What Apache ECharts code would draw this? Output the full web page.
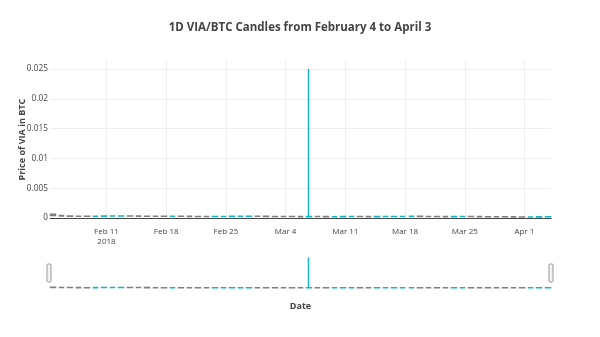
<!DOCTYPE html>
<html>
<head>
<meta charset="utf-8">
<script src="https://cdn.jsdelivr.net/npm/echarts@6/dist/echarts.min.js"></script>
<style>html,body{margin:0;padding:0;background:#fff;}#c{width:600px;height:337px;}</style>
</head>
<body>
<div id="c"></div>
<script>
const dates = [
  '2018-02-04','2018-02-05','2018-02-06','2018-02-07','2018-02-08','2018-02-09','2018-02-10',
  '2018-02-11','2018-02-12','2018-02-13','2018-02-14','2018-02-15','2018-02-16','2018-02-17',
  '2018-02-18','2018-02-19','2018-02-20','2018-02-21','2018-02-22','2018-02-23','2018-02-24',
  '2018-02-25','2018-02-26','2018-02-27','2018-02-28','2018-03-01','2018-03-02','2018-03-03',
  '2018-03-04','2018-03-05','2018-03-06','2018-03-07','2018-03-08','2018-03-09','2018-03-10',
  '2018-03-11','2018-03-12','2018-03-13','2018-03-14','2018-03-15','2018-03-16','2018-03-17',
  '2018-03-18','2018-03-19','2018-03-20','2018-03-21','2018-03-22','2018-03-23','2018-03-24',
  '2018-03-25','2018-03-26','2018-03-27','2018-03-28','2018-03-29','2018-03-30','2018-03-31',
  '2018-04-01','2018-04-02','2018-04-03'
];
const openV = [
  0.00062,0.00041,0.00035,0.00031,0.00030,0.00029,0.00031,0.00033,0.00034,0.00035,
  0.00033,0.00031,0.00030,0.00029,0.00028,0.00029,0.00028,0.00026,0.00025,0.00024,
  0.00026,0.00027,0.00028,0.00029,0.00030,0.00028,0.00027,0.00026,0.00025,0.00024,
  0.00023,0.00025,0.00024,0.00022,0.00023,0.00024,0.00025,0.00024,0.00023,0.00024,
  0.00025,0.00026,0.00027,0.00028,0.00026,0.00025,0.00024,0.00023,0.00024,0.00025,
  0.00024,0.00022,0.00021,0.00020,0.00019,0.00018,0.00017,0.00018,0.00019
];
const closeV = [
  0.00041,0.00035,0.00031,0.00030,0.00029,0.00031,0.00033,0.00034,0.00035,0.00033,
  0.00031,0.00030,0.00029,0.00028,0.00029,0.00028,0.00026,0.00025,0.00024,0.00026,
  0.00027,0.00028,0.00029,0.00030,0.00028,0.00027,0.00026,0.00025,0.00024,0.00023,
  0.00025,0.00024,0.00022,0.00023,0.00024,0.00025,0.00024,0.00023,0.00024,0.00025,
  0.00026,0.00027,0.00028,0.00026,0.00025,0.00024,0.00023,0.00024,0.00025,0.00024,
  0.00022,0.00021,0.00020,0.00019,0.00018,0.00017,0.00018,0.00019,0.00020
];
const lowV = [
  0.00039,0.00033,0.00029,0.00028,0.00028,0.00028,0.00030,0.00032,0.00033,0.00032,
  0.00030,0.00029,0.00028,0.00027,0.00027,0.00027,0.00025,0.00024,0.00023,0.00023,
  0.00025,0.00026,0.00027,0.00028,0.00027,0.00026,0.00025,0.00024,0.00023,0.00022,
  0.00022,0.00023,0.00021,0.00021,0.00022,0.00023,0.00023,0.00022,0.00022,0.00023,
  0.00024,0.00025,0.00026,0.00025,0.00024,0.00023,0.00022,0.00022,0.00023,0.00023,
  0.00021,0.00020,0.00019,0.00018,0.00017,0.00016,0.00016,0.00017,0.00018
];
const highV = [
  0.00066,0.00043,0.00037,0.00033,0.00031,0.00032,0.00034,0.00035,0.00037,0.00036,
  0.00034,0.00032,0.00031,0.00030,0.00030,0.00030,0.00029,0.00027,0.00026,0.00027,
  0.00028,0.00029,0.00030,0.00031,0.00031,0.00029,0.00028,0.00027,0.00026,0.00025,
  0.02500,0.00026,0.00025,0.00024,0.00025,0.00026,0.00026,0.00025,0.00025,0.00026,
  0.00027,0.00028,0.00029,0.00029,0.00027,0.00026,0.00025,0.00025,0.00026,0.00026,
  0.00025,0.00023,0.00022,0.00021,0.00020,0.00019,0.00019,0.00020,0.00021
];
// weekly x ticks (Sundays) and their labels
const xTickDates = ['2018-02-11','2018-02-18','2018-02-25','2018-03-04','2018-03-11','2018-03-18','2018-03-25','2018-04-01'];
const xTickLabels = ['Feb 11\n2018','Feb 18','Feb 25','Mar 4','Mar 11','Mar 18','Mar 25','Apr 1'];

const DAY = 86400000;
const t0 = Date.UTC(2018, 1, 4);
const dayOf = s => (Date.parse(s + 'T00:00:00Z') - t0) / DAY;
const candleTime = 0.73;            // candles are stamped ~17:30 UTC each day
const source = dates.map((d, i) => [dayOf(d) + candleTime, openV[i], closeV[i], lowV[i], highV[i]]);
const xMin = 0.38, xMax = 59.11;    // visible date range (days after Feb 4 00:00)
const yMax = 0.0263;

const UP = '#19B2C0', DOWN = '#7F7F7F';
const FONT = 'Open Sans';

const candleStyle = {
  color: UP, color0: DOWN, borderColor: UP, borderColor0: DOWN, borderColorDoji: DOWN, borderWidth: 1.5
};

const chart = echarts.init(document.getElementById('c'), null, {renderer: 'canvas'});
chart.setOption({
  animation: false,
  backgroundColor: '#fff',
  textStyle: {fontFamily: FONT},
  title: {
    text: '1D VIA/BTC Candles from February 4 to April 3',
    left: 'center', top: 17,
    textStyle: {fontFamily: FONT, fontSize: 11.5, fontWeight: 'bold', color: '#444'}
  },
  dataset: {source: source},
  grid: [
    {left: 50, right: 49, top: 218 - yMax * 5960, height: yMax * 5960},
    {left: 50, right: 49, top: 256, height: 32}
  ],
  xAxis: [
    {
      type: 'value', gridIndex: 0, min: xMin, max: xMax,
      axisLine: {show: true, onZero: false, lineStyle: {color: '#444', width: 1}},
      axisTick: {show: false}, splitLine: {show: false}, axisLabel: {show: false}
    },
    {
      type: 'value', gridIndex: 1, min: xMin, max: xMax,
      axisLine: {show: false}, axisTick: {show: false}, axisLabel: {show: false}, splitLine: {show: false},
      name: 'Date', nameLocation: 'middle', nameGap: 14,
      nameTextStyle: {fontFamily: FONT, fontSize: 9, fontWeight: 'bold', color: '#444'}
    }
  ],
  yAxis: [
    {
      type: 'value', gridIndex: 0, min: 0, max: yMax, interval: 0.005,
      axisLine: {show: false}, axisTick: {show: false},
      splitLine: {show: true, showMaxLine: false, lineStyle: {color: '#eee', width: 1}},
      axisLabel: {
        showMaxLabel: false, color: '#444', fontFamily: FONT, fontSize: 8.3, margin: 2,
        formatter: v => String(+v.toFixed(4))
      },
      name: 'Price of VIA in BTC', nameLocation: 'middle', nameRotate: 90, nameGap: 23,
      nameMoveOverlap: false,
      nameTextStyle: {fontFamily: FONT, fontSize: 9, fontWeight: 'bold', color: '#444'}
    },
    {
      type: 'value', gridIndex: 1, min: 0, max: yMax,
      axisLine: {show: false}, axisTick: {show: false}, axisLabel: {show: false}, splitLine: {show: false}
    }
  ],
  series: [
    {
      type: 'candlestick', xAxisIndex: 0, yAxisIndex: 0, barWidth: 5, z: 3,
      encode: {x: 0, y: [1, 2, 3, 4]}, itemStyle: candleStyle, silent: true,
      markLine: {
        silent: true, symbol: 'none', z: 1, animation: false,
        lineStyle: {color: '#eee', width: 1, type: 'solid'},
        emphasis: {disabled: true},
        label: {
          show: true, position: 'start', distance: 9,
          color: '#444', fontFamily: FONT, fontSize: 8, lineHeight: 10
        },
        data: xTickDates.map((d, i) => ({xAxis: dayOf(d), label: {formatter: xTickLabels[i]}}))
      }
    },
    {
      type: 'candlestick', xAxisIndex: 1, yAxisIndex: 1, barWidth: 5,
      encode: {x: 0, y: [1, 2, 3, 4]}, itemStyle: candleStyle, silent: true
    }
  ]
});

// range-slider style handles at the two ends of the lower strip
const hx0 = chart.convertToPixel({xAxisIndex: 1}, xMin);
const hx1 = chart.convertToPixel({xAxisIndex: 1}, xMax);
const handle = x => ({
  type: 'rect', shape: {x: x - 2, y: 264, width: 4, height: 18, r: 1},
  style: {fill: '#f4f4f4', stroke: '#999', lineWidth: 1}, silent: true
});
chart.setOption({graphic: [handle(hx0 - 1), handle(hx1)]});
</script>
</body>
</html>
